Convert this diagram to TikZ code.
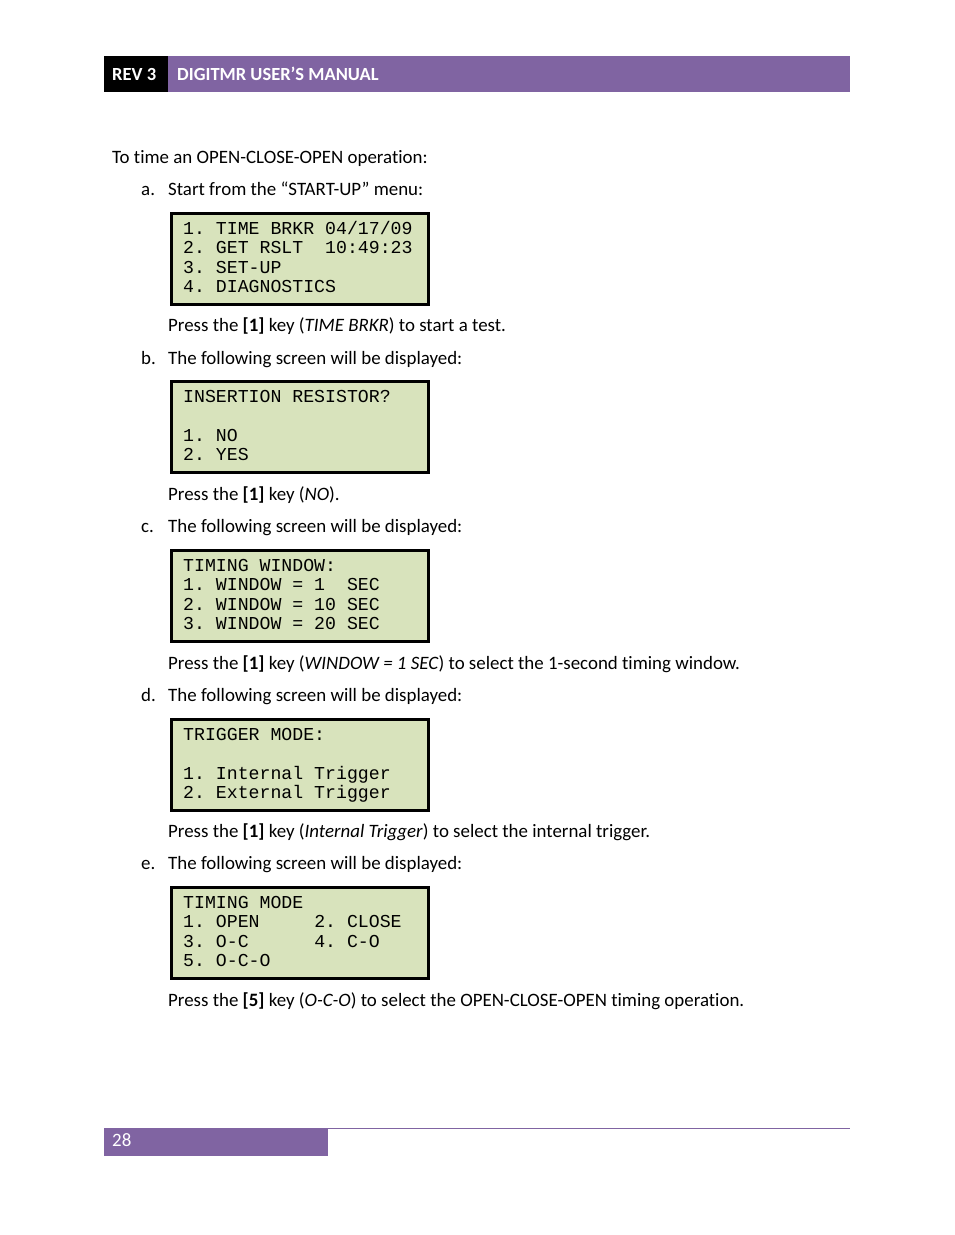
\documentclass[tikz,border=0pt]{standalone}
\usepackage{fontspec}
\setmainfont{Carlito}[Ligatures={NoCommon}]
\newfontfamily\lcdfont{Liberation Mono}
\definecolor{hdr}{HTML}{8064A2}
\definecolor{lcd}{HTML}{D8E3BC}
\begin{document}
\begin{tikzpicture}[x=1pt,y=-1pt,
  txt/.style={anchor=base west,inner sep=0pt,font=\fontsize{18.9}{22}\selectfont},
  lcdbox/.style={draw=black,line width=3pt,fill=lcd,minimum width=257pt,minimum height=91pt,anchor=north west,inner sep=0pt},
  lcdtxt/.style={anchor=base west,inner sep=0pt,font=\lcdfont\fontsize{18.2}{19.5}\selectfont}]
\useasboundingbox (0,0) rectangle (954,1235);
\fill[black] (104,56) rectangle (168,92);
\fill[hdr] (168,56) rectangle (850,92);
\node[txt,text=white,font=\bfseries\fontsize{18.5}{20}\selectfont] (rev) at (112,80) {REV 3};
\node[txt,text=white,font=\bfseries\fontsize{18.5}{20}\selectfont] (title) at (177,80) {DIGITMR USER’S MANUAL};
\node[txt] (intro) at (112,163) {To time an OPEN-CLOSE-OPEN operation:};
% a
\node[txt] (la) at (141,195) {a.};
\node[txt] (ta) at (168,195) {Start from the “START-UP” menu:};
\node[lcdbox] (ba) at (169.5,211.5) {};
\node[lcdtxt] at (183,234) {1.~TIME~BRKR~04/17/09};
\node[lcdtxt] at (183,253.5) {2.~GET~RSLT~~10:49:23};
\node[lcdtxt] at (183,273) {3.~SET-UP};
\node[lcdtxt] at (183,292.5) {4.~DIAGNOSTICS};
\node[txt] (pa) at (168,331) {Press the \textbf{[1]} key (\textit{TIME BRKR}) to start a test.};
% b
\node[txt] (lb) at (141,364) {b.};
\node[txt] (tb) at (168,364) {The following screen will be displayed:};
\node[lcdbox] (bb) at (169.5,379.5) {};
\node[lcdtxt] at (183,402) {INSERTION~RESISTOR?};
\node[lcdtxt] at (183,441) {1.~NO};
\node[lcdtxt] at (183,460.5) {2.~YES};
\node[txt] (pb) at (168,500) {Press the \textbf{[1]} key (\textit{NO}).};
% c
\node[txt] (lc) at (141,532) {c.};
\node[txt] (tc) at (168,532) {The following screen will be displayed:};
\node[lcdbox] (bc) at (169.5,548.5) {};
\node[lcdtxt] at (183,571) {TIMING~WINDOW:};
\node[lcdtxt] at (183,590.5) {1.~WINDOW~=~1~~SEC};
\node[lcdtxt] at (183,610) {2.~WINDOW~=~10~SEC};
\node[lcdtxt] at (183,629.5) {3.~WINDOW~=~20~SEC};
\node[txt] (pc) at (168,669) {Press the \textbf{[1]} key (\textit{WINDOW = 1 SEC}) to select the 1-second timing window.};
% d
\node[txt] (ld) at (141,701) {d.};
\node[txt] (td) at (168,701) {The following screen will be displayed:};
\node[lcdbox] (bd) at (169.5,717.5) {};
\node[lcdtxt] at (183,740) {TRIGGER~MODE:};
\node[lcdtxt] at (183,779) {1.~Internal~Trigger};
\node[lcdtxt] at (183,798.5) {2.~External~Trigger};
\node[txt] (pd) at (168,837) {Press the \textbf{[1]} key (\textit{Internal Trigger}) to select the internal trigger.};
% e
\node[txt] (le) at (141,869) {e.};
\node[txt] (te) at (168,869) {The following screen will be displayed:};
\node[lcdbox] (be) at (169.5,885.5) {};
\node[lcdtxt] at (183,908) {TIMING~MODE};
\node[lcdtxt] at (183,927.5) {1.~OPEN~~~~~2.~CLOSE};
\node[lcdtxt] at (183,947) {3.~O-C~~~~~~4.~C-O};
\node[lcdtxt] at (183,966.5) {5.~O-C-O};
\node[txt] (pe) at (168,1006) {Press the \textbf{[5]} key (\textit{O-C-O}) to select the OPEN-CLOSE-OPEN timing operation.};
% footer
\draw[hdr,line width=0.8pt] (104,1128.5) -- (850,1128.5);
\fill[hdr] (104,1129) rectangle (328,1156);
\node[txt,text=white] (pg) at (112,1146) {28};
\end{tikzpicture}
\end{document}
